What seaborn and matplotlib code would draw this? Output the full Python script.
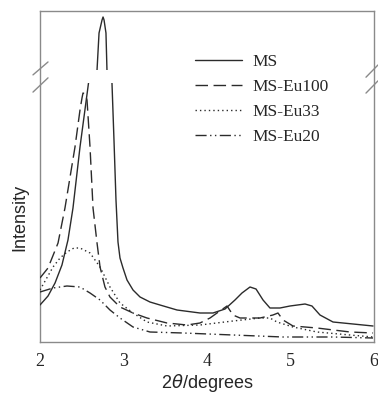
import numpy as np
import pandas as pd
import matplotlib
matplotlib.use("Agg")
import matplotlib.pyplot as plt
import seaborn as sns

sns.set_style("white")

# 2theta (degrees) and intensity (arbitrary units)
ms_x = [2.000, 2.096, 2.180, 2.263, 2.335, 2.395, 2.479, 2.581,
        2.683, 2.707, 2.743, 2.755, 2.767, 2.790, 2.802,
        2.862, 2.886, 2.910, 2.934, 2.958, 2.994, 3.042, 3.114, 3.198,
        3.317, 3.437, 3.641, 3.916, 4.072, 4.216, 4.335, 4.419, 4.515,
        4.587, 4.671, 4.754, 4.874, 4.994, 5.174, 5.257, 5.353, 5.509,
        5.749, 5.988]
ms_y = [37, 46, 59, 77, 102, 134, 195, 259,
        422, 459, 472, 475, 472, 459, 422,
        259, 202, 142, 100, 84, 74, 62, 52, 45,
        40, 37, 32, 29, 29, 33, 42, 49, 55,
        53, 42, 34, 34, 36, 38, 36, 27, 20,
        18, 16]

eu100_x = [2.000, 2.096, 2.216, 2.299, 2.419, 2.479, 2.503, 2.515, 2.539,
           2.563, 2.599, 2.635, 2.683, 2.719, 2.778, 2.838, 2.958, 3.114,
           3.281, 3.521, 3.760, 3.916, 4.036, 4.120, 4.240, 4.311, 4.395,
           4.635, 4.790, 4.850, 4.910, 5.030, 5.317, 5.713, 5.988]
eu100_y = [64, 74, 99, 134, 195, 232, 244, 249, 248,
           242, 195, 134, 99, 75, 55, 45, 35, 29,
           24, 19, 17, 19, 24, 29, 36, 27, 24,
           24, 27, 29, 22, 16, 14, 10, 9]

eu33_x = [2.000, 2.156, 2.240, 2.323, 2.407, 2.479, 2.599, 2.719, 2.838,
          2.958, 3.114, 3.281, 3.521, 3.916, 4.311, 4.635, 4.754, 4.838,
          5.030, 5.317, 5.713, 5.988]
eu33_y = [52, 75, 84, 90, 94, 94, 89, 75, 55,
          39, 29, 20, 16, 17, 21, 24, 24, 20,
          15, 10, 7, 5]

eu20_x = [2.000, 2.156, 2.323, 2.479, 2.599, 2.719, 2.838, 2.958, 3.114,
          3.317, 3.713, 4.311, 4.910, 5.509, 5.988]
eu20_y = [50, 54, 56, 55, 49, 42, 32, 24, 15,
          10, 9, 7, 5, 5, 4]

samples = ["MS", "MS-Eu100", "MS-Eu33", "MS-Eu20"]
xticks = [2, 3, 4, 5, 6]

df = pd.concat([
    pd.DataFrame({"x": ms_x, "y": ms_y, "sample": "MS"}),
    pd.DataFrame({"x": eu100_x, "y": eu100_y, "sample": "MS-Eu100"}),
    pd.DataFrame({"x": eu33_x, "y": eu33_y, "sample": "MS-Eu33"}),
    pd.DataFrame({"x": eu20_x, "y": eu20_y, "sample": "MS-Eu20"}),
])

dashes = {"MS": "", "MS-Eu100": (9, 4), "MS-Eu33": (1, 2.2),
          "MS-Eu20": (8, 2.5, 1, 2.5, 1, 2.5)}
line_col = "#2b2b2b"
spine_col = "#8a8a8a"
serif = ["Liberation Serif", "DejaVu Serif"]
sans = ["Liberation Sans", "DejaVu Sans"]

W, H = 378, 394
fig = plt.figure(figsize=(W / 100, H / 100), dpi=100)

def fax(px0, py_top, px1, py_bot):
    return [px0 / W, 1 - py_bot / H, (px1 - px0) / W, (py_bot - py_top) / H]

# frame axes: the box, x ticks, labels
frame = fig.add_axes(fax(40, 11, 374, 342))
frame.set_xlim(2, 6)
frame.set_ylim(0, 1)
frame.set_yticks([])
frame.set_xticks(xticks)
frame.set_xticklabels([str(t) for t in xticks], fontfamily=serif, fontsize=13)
frame.tick_params(axis="x", direction="out", length=5, width=0.8,
                  color=spine_col, pad=3)
for s in frame.spines.values():
    s.set_color(spine_col)
    s.set_linewidth(1.0)
frame.set_xlabel("2$\\theta$/degrees", fontfamily=sans, fontsize=13, labelpad=1)
frame.set_ylabel("Intensity", fontfamily=sans, fontsize=13)
frame.yaxis.set_label_coords(-0.035, 0.375)

# break marks
for y0, y1 in [(0.807, 0.846), (0.755, 0.798)]:
    frame.plot([-0.021, 0.024], [y0, y1], transform=frame.transAxes,
               color=spine_col, lw=1.0, clip_on=False)
for y0, y1 in [(0.800, 0.837), (0.752, 0.789)]:
    frame.plot([0.976, 1.012], [y0, y1], transform=frame.transAxes,
               color=spine_col, lw=1.0, clip_on=False)

# lower data axes and upper (broken) data axes
lo = fig.add_axes(fax(40, 83, 374, 342))
hi = fig.add_axes(fax(40, 11, 374, 70))
for ax, ylim in [(lo, (0, 259)), (hi, (422, 481))]:
    sns.lineplot(data=df, x="x", y="y", style="sample", style_order=samples,
                 dashes=dashes, color=line_col, linewidth=1.0, sort=False,
                 estimator=None, ax=ax, legend=(ax is lo))
    ax.set_xlim(2, 6)
    ax.set_ylim(*ylim)
    ax.patch.set_visible(False)
    ax.set_xticks([])
    ax.set_yticks([])
    ax.set_xlabel("")
    ax.set_ylabel("")
    for s in ax.spines.values():
        s.set_visible(False)

handles, labels = lo.get_legend_handles_labels()
lo.get_legend().remove()
for h in handles:
    h.set_linewidth(1.0)
fig.legend(handles, labels, loc="upper left",
           bbox_to_anchor=(188 / W, 1 - 47 / H), frameon=False,
           prop={"family": serif, "size": 12.5}, handlelength=2.7,
           handletextpad=0.6, labelspacing=0.5, borderaxespad=0)

fig.savefig("out.png", dpi=100)
